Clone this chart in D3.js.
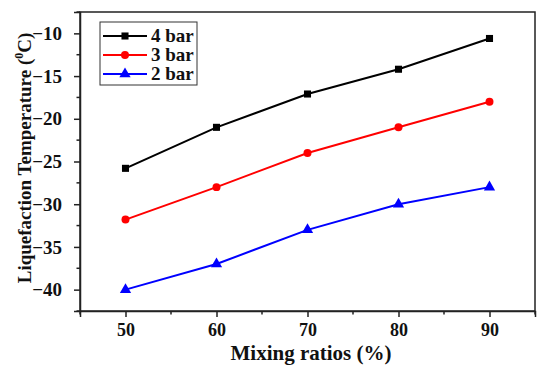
<!DOCTYPE html>
<html>
<head>
<meta charset="utf-8">
<script src="https://cdn.jsdelivr.net/npm/d3@7"></script>
<style>
  body { margin: 0; background: #fff; }
  text { font-family: "Liberation Serif", "Times New Roman", serif; font-weight: bold; }
</style>
</head>
<body>
<svg id="chart" width="550" height="366"></svg>
<script>
var ratios = [50, 60, 70, 80, 90];
var bar4 = [-25.8, -21, -17.1, -14.2, -10.6];
var bar3 = [-31.8, -28, -24, -21, -18];
var bar2 = [-40, -37, -33, -30, -28];
var xTicks = [50, 60, 70, 80, 90];
var yTicks = [-40, -35, -30, -25, -20, -15, -10];

var series = [
  { name: "4 bar", values: bar4, color: "#000000", shape: d3.symbolSquare },
  { name: "3 bar", values: bar3, color: "#ff0000", shape: d3.symbolCircle },
  { name: "2 bar", values: bar2, color: "#0000ff", shape: d3.symbolTriangle }
];

var svg = d3.select("#chart");
var pLeft = 80, pRight = 535, pTop = 12, pBottom = 311;

var x = d3.scaleLinear().domain([45, 95]).range([pLeft, pRight]);
var y = d3.scaleLinear().domain([-42.5, -7.5]).range([pBottom, pTop]);

// frame
svg.append("rect")
  .attr("x", pLeft).attr("y", pTop)
  .attr("width", pRight - pLeft).attr("height", pBottom - pTop)
  .attr("fill", "none").attr("stroke", "#222").attr("stroke-width", 1.5);

// minor ticks
var xMinor = d3.range(45, 96, 5).filter(d => xTicks.indexOf(d) < 0);
var yMinor = d3.range(-42.5, -7.4, 5);

var xAxis = svg.append("g").attr("transform", "translate(0," + pBottom + ")")
  .call(d3.axisBottom(x).tickValues(xTicks).tickSize(6).tickPadding(6).tickFormat(d3.format("d")));
var yAxis = svg.append("g").attr("transform", "translate(" + pLeft + ",0)")
  .call(d3.axisLeft(y).tickValues(yTicks).tickSize(6).tickPadding(12).tickFormat(d3.format("d")));

xAxis.attr("font-size", 18);
yAxis.attr("font-size", 19);
[xAxis, yAxis].forEach(function (a) {
  a.select(".domain").attr("stroke", "#222").attr("stroke-width", 1.5);
  a.selectAll(".tick line").attr("stroke", "#222").attr("stroke-width", 1.5);
  a.selectAll(".tick text")
    .attr("fill", "#111")
    .style("font-family", "'Liberation Serif', serif").style("font-weight", "bold");
});

svg.append("g").selectAll("line").data(xMinor).enter().append("line")
  .attr("x1", d => x(d)).attr("x2", d => x(d))
  .attr("y1", pBottom).attr("y2", pBottom + 3.5)
  .attr("stroke", "#222").attr("stroke-width", 1.5);
svg.append("g").selectAll("line").data(yMinor).enter().append("line")
  .attr("y1", d => y(d)).attr("y2", d => y(d))
  .attr("x1", pLeft).attr("x2", pLeft - 3.5)
  .attr("stroke", "#222").attr("stroke-width", 1.5);

// lines + markers
var line = d3.line().x((d, i) => x(ratios[i])).y(d => y(d));
series.forEach(function (s) {
  svg.append("path").datum(s.values)
    .attr("d", line).attr("fill", "none")
    .attr("stroke", s.color).attr("stroke-width", 2);
  svg.append("g").selectAll("path").data(s.values).enter().append("path")
    .attr("transform", (d, i) => "translate(" + x(ratios[i]) + "," + y(d) + ")")
    .attr("d", d3.symbol().type(s.shape).size(s.shape === d3.symbolTriangle ? 55 : 50))
    .attr("fill", s.color);
});

// legend
var lg = svg.append("g");
lg.append("rect").attr("x", 100).attr("y", 22).attr("width", 97).attr("height", 63)
  .attr("fill", "#fff").attr("stroke", "#333").attr("stroke-width", 1);
series.forEach(function (s, i) {
  var yy = 36 + i * 19;
  lg.append("line").attr("x1", 103).attr("x2", 147).attr("y1", yy).attr("y2", yy)
    .attr("stroke", s.color).attr("stroke-width", 2);
  lg.append("path").attr("transform", "translate(125," + yy + ")")
    .attr("d", d3.symbol().type(s.shape).size(s.shape === d3.symbolTriangle ? 55 : 50))
    .attr("fill", s.color);
  lg.append("text").attr("x", 151).attr("y", yy + 6)
    .attr("font-size", 19).attr("fill", "#111").text(s.name);
});

// axis titles
svg.append("text").attr("x", 311).attr("y", 360)
  .attr("text-anchor", "middle").attr("font-size", 21).attr("fill", "#111")
  .text("Mixing ratios (%)");

var yt = svg.append("text")
  .attr("transform", "translate(31,158) rotate(-90)")
  .attr("text-anchor", "middle").attr("font-size", 19).attr("fill", "#111");
yt.append("tspan").text("Liquefaction Temperature (");
yt.append("tspan").attr("font-size", 12).attr("dy", -8).text("0");
yt.append("tspan").attr("dy", 8).text("C)");
</script>
</body>
</html>
